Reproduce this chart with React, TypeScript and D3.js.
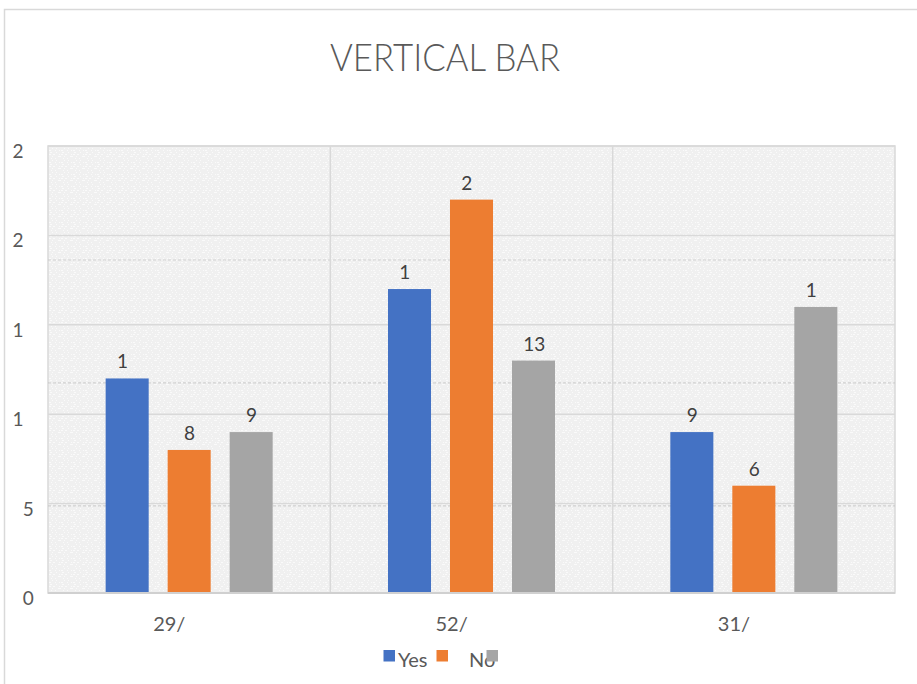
import React from "react";
import * as d3 from "d3";

// Chart data
const categories = ["29/", "52/", "31/"];
const seriesNames = ["Yes", "No", ""];
const yesValues = [12, 17, 9];
const noValues = [8, 22, 6];
const thirdValues = [9, 13, 16];
// Text shown above each bar (long numbers appear clipped to their first digit)
const yesLabels = ["1", "1", "9"];
const noLabels = ["8", "2", "6"];
const thirdLabels = ["9", "13", "1"];
const yTicks = [0, 5, 10, 15, 20, 25];
const yTickLabels = ["0", "5", "1", "1", "2", "2"];

const colors = ["#4472C4", "#ED7D31", "#A5A5A5"];
const FONT = "Lato, 'Open Sans', sans-serif";

export default function App() {
  const W = 917;
  const H = 684;
  const plot = { left: 48, right: 895, top: 146, bottom: 593 };

  const series = [
    { name: seriesNames[0], values: yesValues, labels: yesLabels },
    { name: seriesNames[1], values: noValues, labels: noLabels },
    { name: seriesNames[2], values: thirdValues, labels: thirdLabels },
  ];

  const x0 = d3
    .scaleBand<string>()
    .domain(categories)
    .range([plot.left, plot.right])
    .padding(0);
  const x1 = d3
    .scaleBand<number>()
    .domain([0, 1, 2])
    .range([0, x0.bandwidth()])
    .paddingInner(0.306)
    .paddingOuter(0.93);
  const y = d3.scaleLinear().domain([0, 25]).range([plot.bottom, plot.top]);

  const digitW = 10.2;
  const textColor = "#595959";
  const labelColor = "#404040";

  // light speckle texture for the plot background
  const speckles: { x: number; y: number; w: number }[] = [];
  for (let r = 0; r < 6; r++) {
    for (let c = 0; c < 6; c++) {
      if ((r * 7 + c * 3) % 5 < 2) speckles.push({ x: c * 2 + (r % 2), y: r * 2, w: 1 + ((r + c) % 2) });
    }
  }
  const scanLines = [0.255, 0.53, 0.805];

  return (
    <svg
      width={W}
      height={H}
      style={{ position: "absolute", left: 0, top: 0, display: "block", background: "#fff" }}
    >
      <defs>
        <pattern id="speckle" width={12} height={12} patternUnits="userSpaceOnUse">
          <rect width={12} height={12} fill="#f0f0f0" />
          {speckles.map((s, i) => (
            <rect key={i} x={s.x} y={s.y} width={s.w} height={1} fill="#fafafa" />
          ))}
        </pattern>
      </defs>

      {/* chart frame */}
      <path d={`M4.5,${H} V9.5 H${W}`} fill="none" stroke="#d9d9d9" strokeWidth={1.5} />

      {/* title */}
      <text
        x={445}
        y={71}
        textAnchor="middle"
        fontFamily="Lato, 'Open Sans', sans-serif"
        fontSize={38}
        fontWeight={300}
        fill={textColor}
        textLength={230}
        lengthAdjust="spacingAndGlyphs"
      >
        VERTICAL BAR
      </text>

      {/* plot background */}
      <rect
        x={plot.left}
        y={plot.top}
        width={plot.right - plot.left}
        height={plot.bottom - plot.top}
        fill="url(#speckle)"
        stroke="#d9d9d9"
        strokeWidth={1.5}
      />
      {scanLines.map((f, i) => (
        <line
          key={i}
          x1={plot.left}
          x2={plot.right}
          y1={plot.top + f * (plot.bottom - plot.top)}
          y2={plot.top + f * (plot.bottom - plot.top)}
          stroke="#c4c4c4"
          strokeWidth={1.2}
          strokeDasharray="3 2"
          opacity={0.7}
        />
      ))}

      {/* horizontal gridlines */}
      {yTicks.map((t) => (
        <line
          key={t}
          x1={plot.left}
          x2={plot.right}
          y1={y(t)}
          y2={y(t)}
          stroke="#d9d9d9"
          strokeWidth={1.5}
        />
      ))}
      {/* category separators */}
      {categories.slice(1).map((c) => (
        <line
          key={c}
          x1={x0(c)!}
          x2={x0(c)!}
          y1={plot.top}
          y2={plot.bottom}
          stroke="#d9d9d9"
          strokeWidth={1.5}
        />
      ))}

      {/* y tick labels */}
      {yTicks.map((t, i) => (
        <text
          key={t}
          x={33 - String(t).length * digitW}
          y={y(t) + 12}
          fontFamily={FONT}
          fontSize={19}
          fill={textColor}
        >
          {yTickLabels[i]}
        </text>
      ))}

      {/* bars */}
      {categories.map((c, ci) => (
        <g key={c}>
          {series.map((s, si) => {
            const bx = x0(c)! + x1(si)!;
            const bw = x1.bandwidth();
            const v = s.values[ci];
            const cx = bx + bw / 2;
            return (
              <g key={si}>
                <rect x={bx} y={y(v)} width={bw} height={y(0) - y(v)} fill={colors[si]} />
                <text
                  x={cx - (String(v).length * digitW) / 2}
                  y={y(v) - 10}
                  fontFamily={FONT}
                  fontSize={19}
                  fill={labelColor}
                >
                  {s.labels[ci]}
                </text>
              </g>
            );
          })}
        </g>
      ))}

      {/* bottom axis line */}
      <line
        x1={plot.left}
        x2={plot.right}
        y1={plot.bottom}
        y2={plot.bottom}
        stroke="#d0d0d0"
        strokeWidth={2}
      />

      {/* category labels */}
      {categories.map((c) => (
        <text
          key={c}
          x={x0(c)! + x0.bandwidth() / 2 - 36}
          y={631}
          fontFamily={FONT}
          fontSize={20}
          fill={textColor}
        >
          {c}
        </text>
      ))}

      {/* legend */}
      <g>
        <rect x={383.5} y={650} width={11.5} height={11.5} fill={colors[0]} />
        <text x={398} y={667} fontFamily={FONT} fontSize={20} fill={textColor}>
          {seriesNames[0]}
        </text>
        <rect x={436.5} y={650} width={11.5} height={11.5} fill={colors[1]} />
        <text x={469} y={667} fontFamily={FONT} fontSize={20} fill={textColor}>
          {seriesNames[1]}
        </text>
        <rect x={486.5} y={650} width={11.5} height={11.5} fill={colors[2]} />
      </g>
    </svg>
  );
}
